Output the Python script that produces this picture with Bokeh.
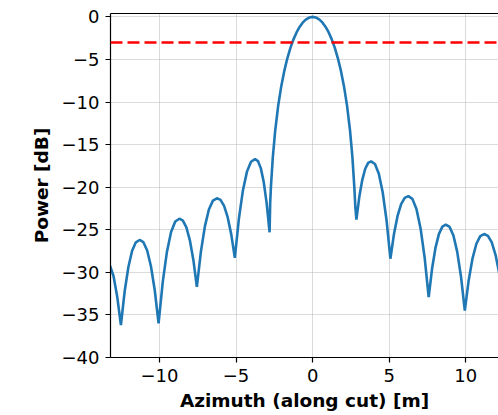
from bokeh.plotting import figure
from bokeh.models import (Range1d, FixedTicker, CustomJSTickFormatter, Span,
                          LinearAxis, ColumnDataSource)
from bokeh.embed import file_html
from bokeh.resources import INLINE

# ---- data ----
azimuth_m = [
    -13.72, -13.46, -13.2, -13.0, -12.76, -12.52,
    -12.276, -12.032, -11.788, -11.544, -11.3, -11.052, -10.804, -10.556, -10.308, -10.06,
    -9.788, -9.516, -9.244, -8.972, -8.7, -8.472, -8.244, -8.016, -7.788, -7.56,
    -7.298, -7.036, -6.774, -6.512, -6.25, -6.016, -5.782, -5.548, -5.314, -5.08,
    -4.816, -4.552, -4.288, -4.024, -3.76, -3.57, -3.38, -3.19, -3.0, -2.81,
    -2.77, -2.72, -2.6, -2.45, -2.25, -2.05, -1.85, -1.65, -1.45, -1.25, -1.05,
    -0.85, -0.65, -0.45, -0.2, 0.0, 0.2, 0.45, 0.65, 0.85,
    1.05, 1.25, 1.45, 1.65, 1.85, 2.05, 2.25, 2.45, 2.6, 2.72, 2.79, 2.86,
    3.052, 3.244, 3.436, 3.628, 3.82, 4.072, 4.324, 4.576, 4.828, 5.08,
    5.314, 5.548, 5.782, 6.016, 6.25, 6.516, 6.782, 7.048, 7.314, 7.58,
    7.804, 8.028, 8.252, 8.476, 8.7, 8.948, 9.196, 9.444, 9.692, 9.94,
    10.192, 10.444, 10.696, 10.948, 11.2, 11.45, 11.7, 11.95, 12.2, 12.45,
]
power_db = [
    -27.8, -28.07, -29.4, -30.46, -32.88, -36.2,
    -32.25, -29.37, -27.47, -26.47, -26.2, -26.46, -27.44, -29.31, -32.13, -36.0,
    -31.14, -27.60, -25.26, -24.03, -23.7, -23.92, -24.72, -26.24, -28.54, -31.7,
    -27.59, -24.60, -22.62, -21.58, -21.3, -21.49, -22.19, -23.52, -25.54, -28.3,
    -23.72, -20.38, -18.17, -17.01, -16.7, -16.93, -17.79, -19.43, -21.9, -25.3,
    -21.8, -19.87, -16.5, -13.46, -10.45, -8.16, -6.34, -4.86, -3.64, -2.64, -1.83,
    -1.18, -0.68, -0.32, -0.06, 0.0, -0.06, -0.32, -0.68, -1.18,
    -1.83, -2.64, -3.64, -4.86, -6.34, -8.16, -10.45, -13.46, -16.5, -19.87, -22.3, -23.8,
    -21.10, -19.13, -17.83, -17.14, -16.96, -17.27, -18.41, -20.59, -23.88, -28.4,
    -25.50, -23.38, -21.98, -21.25, -21.05, -21.37, -22.55, -24.81, -28.22, -32.9,
    -29.54, -27.09, -25.48, -24.63, -24.4, -24.67, -25.68, -27.60, -30.51, -34.5,
    -30.95, -28.35, -26.64, -25.74, -25.5, -25.71, -26.49, -27.97, -30.22, -33.3,
]
threshold_db = -3
x_ticks = [-10, -5, 0, 5, 10]
y_ticks = [0, -5, -10, -15, -20, -25, -30, -35, -40]
x_label = "Azimuth (along cut) [m]"
y_label = "Power [dB]"

FONT = "DejaVu Sans"

p = figure(width=498, height=413, output_backend="svg", toolbar_location=None,
           x_range=Range1d(-13.2, 12.14), y_range=Range1d(-40, 0.4),
           min_border_left=110, min_border_right=0, min_border_top=13,
           min_border_bottom=56, x_axis_location=None, y_axis_location=None)
p.outline_line_color = None
p.background_fill_color = "white"
p.border_fill_color = "white"

fmt = CustomJSTickFormatter(code="return tick < 0 ? '\\u2212' + Math.abs(tick) : String(tick);")

def style_axis(ax):
    ax.axis_line_color = "black"
    ax.axis_line_width = 1.2
    ax.major_tick_line_color = "black"
    ax.major_tick_line_width = 1.2
    ax.major_tick_out = 5
    ax.major_tick_in = 0
    ax.minor_tick_out = 0
    ax.minor_tick_in = 0
    ax.major_label_text_font = FONT
    ax.major_label_text_font_size = "18px"
    ax.major_label_text_color = "black"
    ax.axis_label_text_font = FONT
    ax.axis_label_text_font_size = "18.5px"
    ax.axis_label_text_font_style = "bold"
    ax.axis_label_text_color = "black"

xa = LinearAxis(ticker=FixedTicker(ticks=x_ticks), formatter=fmt, axis_label=x_label)
style_axis(xa)
xa.major_label_standoff = 6
xa.axis_label_standoff = 5
p.add_layout(xa, "below")

ya = LinearAxis(ticker=FixedTicker(ticks=y_ticks), formatter=fmt, axis_label=y_label)
style_axis(ya)
ya.major_label_standoff = 6
ya.axis_label_standoff = 7
p.add_layout(ya, "left")

top = LinearAxis(ticker=FixedTicker(ticks=[]))
top.axis_line_color = "black"
top.axis_line_width = 1.2
top.major_tick_out = 0
top.major_tick_in = 0
top.minor_tick_out = 0
top.minor_tick_in = 0
top.major_label_text_font_size = "0px"
top.major_label_standoff = 0
p.add_layout(top, "above")

p.xgrid.ticker = FixedTicker(ticks=x_ticks)
p.ygrid.ticker = FixedTicker(ticks=y_ticks)
for g in (p.xgrid, p.ygrid):
    g.grid_line_color = "#b0b0b0"
    g.grid_line_alpha = 0.45
    g.grid_line_width = 1

src = ColumnDataSource(data=dict(x=azimuth_m, y=power_db))
p.line("x", "y", source=src, line_color="#1f77b4", line_width=2.6)

p.add_layout(Span(location=threshold_db, dimension="width", line_color="red",
                  line_width=2.4, line_dash="12 5"))

open("out.html", "w").write(file_html(p, INLINE))
